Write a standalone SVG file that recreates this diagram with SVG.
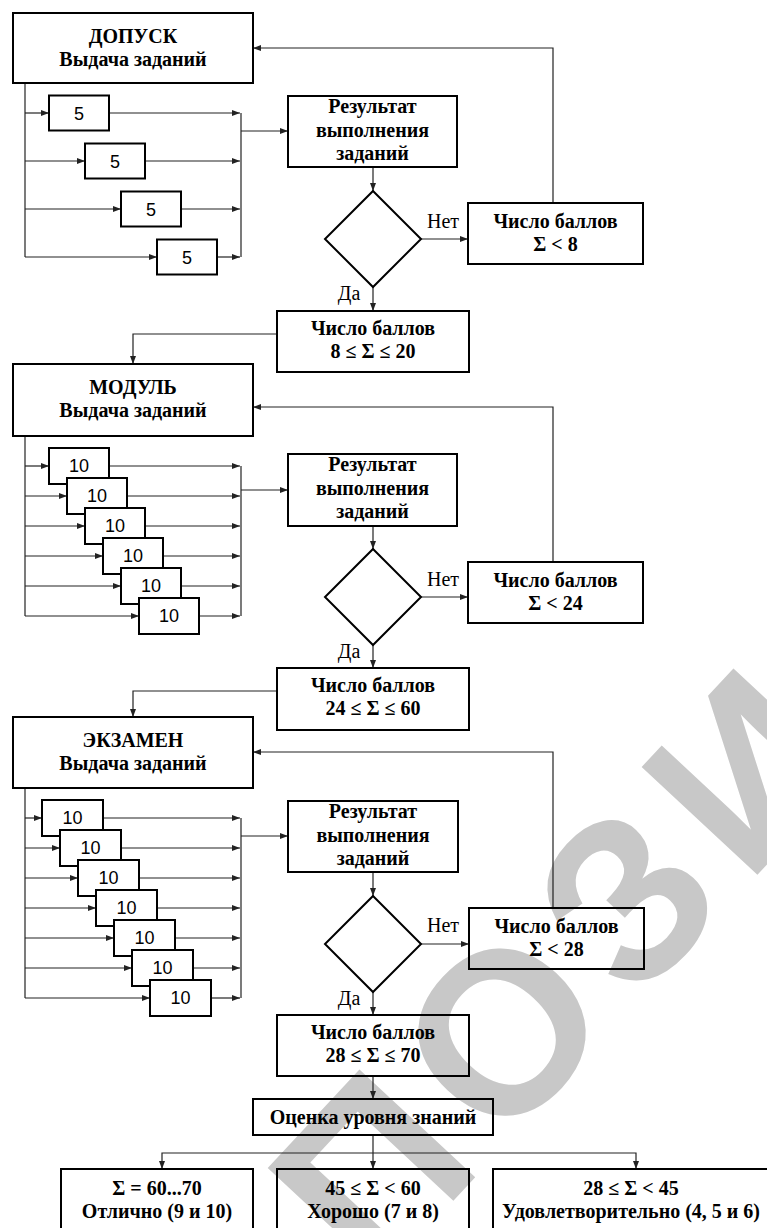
<svg xmlns="http://www.w3.org/2000/svg" width="767" height="1228" viewBox="0 0 767 1228">
<style>
.box{fill:none;stroke:#000;stroke-width:2}
.sbox{fill:#fff;stroke:#000;stroke-width:2}
.ln{fill:none;stroke:#222;stroke-width:1.2}
.ar{fill:none;stroke:#222;stroke-width:1.2;marker-end:url(#ah)}
.t{font-family:'Liberation Serif','DejaVu Serif',serif;font-weight:bold;font-size:20px;text-anchor:middle;fill:#000}
.lab{font-family:'Liberation Serif','DejaVu Serif',serif;font-size:20px;text-anchor:middle;fill:#000}
.n{font-family:'Liberation Sans','DejaVu Sans',sans-serif;font-size:18px;text-anchor:middle;fill:#000}
.wm{font-family:'Liberation Sans','DejaVu Sans',sans-serif;font-weight:bold;font-size:230px;fill:#c8c8c8}
</style>
<defs>
<marker id="ah" markerWidth="8" markerHeight="6" refX="8" refY="3" orient="auto" markerUnits="userSpaceOnUse">
<path d="M0,0 L8,3 L0,6 z" fill="#222"/>
</marker>
</defs>
<rect width="767" height="1228" fill="#fff"/>
<g id="watermark">
<text class="wm" x="373" y="1287" transform="rotate(-47 373 1287)" letter-spacing="20">ПОЗИ</text>
</g>

<g id="connectors">
<path class="ln" d="M25,83 V257"/>
<path class="ar" d="M25,113 H49"/><path class="ar" d="M25,161 H85"/><path class="ar" d="M25,209 H121"/><path class="ar" d="M25,257 H157"/>
<path class="ar" d="M109,113 H240"/><path class="ar" d="M145,161 H240"/><path class="ar" d="M181,209 H240"/><path class="ar" d="M217,257 H240"/>
<path class="ln" d="M241,113 V257"/>
<path class="ar" d="M241,131 H288"/>
<path class="ar" d="M373,167 V191"/>
<path class="ar" d="M421,239 H468"/>
<path class="ar" d="M553,203 V48 H253"/>
<path class="ar" d="M373,287 V311"/>
<path class="ar" d="M277,334 H133 V364"/>
<path class="ln" d="M25,436 V616"/>
<path class="ar" d="M25,466 H49"/><path class="ar" d="M25,496 H67"/><path class="ar" d="M25,526 H85"/><path class="ar" d="M25,556 H103"/><path class="ar" d="M25,586 H121"/><path class="ar" d="M25,616 H139"/>
<path class="ar" d="M109,466 H240"/><path class="ar" d="M127,496 H240"/><path class="ar" d="M145,526 H240"/><path class="ar" d="M163,556 H240"/><path class="ar" d="M181,586 H240"/><path class="ar" d="M199,616 H240"/>
<path class="ln" d="M241,466 V616"/>
<path class="ar" d="M241,490 H288"/>
<path class="ar" d="M373,526 V549"/>
<path class="ar" d="M421,597 H468"/>
<path class="ar" d="M553,562 V407 H253"/>
<path class="ar" d="M373,645 V668"/>
<path class="ar" d="M277,691 H133 V717"/>
<path class="ln" d="M25,788 V998"/>
<path class="ar" d="M25,818 H42"/><path class="ar" d="M25,848 H60"/><path class="ar" d="M25,878 H78"/><path class="ar" d="M25,908 H96"/><path class="ar" d="M25,938 H114"/><path class="ar" d="M25,968 H132"/><path class="ar" d="M25,998 H150"/>
<path class="ar" d="M103,818 H240"/><path class="ar" d="M121,848 H240"/><path class="ar" d="M139,878 H240"/><path class="ar" d="M157,908 H240"/><path class="ar" d="M175,938 H240"/><path class="ar" d="M193,968 H240"/><path class="ar" d="M211,998 H240"/>
<path class="ln" d="M241,818 V998"/>
<path class="ar" d="M241,836 H288"/>
<path class="ar" d="M373,872 V896"/>
<path class="ar" d="M421,944 H469"/>
<path class="ar" d="M553,908 V752 H253"/>
<path class="ar" d="M373,992 V1015"/>
<path class="ar" d="M373,1076 V1099"/>
<path class="ln" d="M373,1135 V1153"/>
<path class="ar" d="M373,1153 V1169"/>
<path class="ar" d="M373,1153 H162 V1169"/>
<path class="ar" d="M373,1153 H636 V1169"/>
</g>

<g id="dopusk"><rect class="box" x="13" y="13" width="240" height="70"/>
<text class="t" x="133" y="43">ДОПУСК</text><text class="t" x="133" y="66">Выдача заданий</text></g>
<g id="d5a"><rect class="sbox" x="49" y="95.5" width="60" height="35"/><text class="n" x="79" y="119.5">5</text></g>
<g id="d5b"><rect class="sbox" x="85" y="143.5" width="60" height="35"/><text class="n" x="115" y="167.5">5</text></g>
<g id="d5c"><rect class="sbox" x="121" y="191.5" width="60" height="35"/><text class="n" x="151" y="215.5">5</text></g>
<g id="d5d"><rect class="sbox" x="157" y="239.5" width="60" height="35"/><text class="n" x="187" y="263.5">5</text></g>
<g id="res1"><rect class="box" x="288" y="96" width="169" height="71"/>
<text class="t" x="372.5" y="113">Результат</text><text class="t" x="372.5" y="137">выполнения</text><text class="t" x="372.5" y="160">заданий</text></g>
<g id="dec1"><polygon class="box" points="373,191 421,239 373,287 325,239"/></g>
<g id="no1lab"><text class="lab" x="443" y="228">Нет</text></g>
<g id="no1"><rect class="box" x="468" y="203" width="175" height="61"/>
<text class="t" x="555.5" y="228">Число баллов</text><text class="t" x="555.5" y="251">Σ &lt; 8</text></g>
<g id="yes1lab"><text class="lab" x="349" y="300">Да</text></g>
<g id="yes1"><rect class="box" x="277" y="311" width="192" height="61"/>
<text class="t" x="373" y="335">Число баллов</text><text class="t" x="373" y="358">8 ≤ Σ ≤ 20</text></g>

<g id="modul"><rect class="box" x="13" y="364" width="240" height="72"/>
<text class="t" x="133" y="394">МОДУЛЬ</text><text class="t" x="133" y="417">Выдача заданий</text></g>
<g id="m10a"><rect class="sbox" x="49" y="448" width="60" height="36"/><text class="n" x="79" y="472">10</text></g>
<g id="m10b"><rect class="sbox" x="67" y="478" width="60" height="36"/><text class="n" x="97" y="502">10</text></g>
<g id="m10c"><rect class="sbox" x="85" y="508" width="60" height="36"/><text class="n" x="115" y="532">10</text></g>
<g id="m10d"><rect class="sbox" x="103" y="538" width="60" height="36"/><text class="n" x="133" y="562">10</text></g>
<g id="m10e"><rect class="sbox" x="121" y="568" width="60" height="36"/><text class="n" x="151" y="592">10</text></g>
<g id="m10f"><rect class="sbox" x="139" y="598" width="60" height="36"/><text class="n" x="169" y="622">10</text></g>
<g id="res2"><rect class="box" x="288" y="454" width="169" height="72"/>
<text class="t" x="372.5" y="471">Результат</text><text class="t" x="372.5" y="495">выполнения</text><text class="t" x="372.5" y="518">заданий</text></g>
<g id="dec2"><polygon class="box" points="373,549 421,597 373,645 325,597"/></g>
<g id="no2lab"><text class="lab" x="443" y="586">Нет</text></g>
<g id="no2"><rect class="box" x="468" y="562" width="175" height="61"/>
<text class="t" x="555.5" y="587">Число баллов</text><text class="t" x="555.5" y="610">Σ &lt; 24</text></g>
<g id="yes2lab"><text class="lab" x="349" y="658">Да</text></g>
<g id="yes2"><rect class="box" x="277" y="668" width="192" height="62"/>
<text class="t" x="373" y="692">Число баллов</text><text class="t" x="373" y="715">24 ≤ Σ ≤ 60</text></g>

<g id="exam"><rect class="box" x="13" y="717" width="240" height="71"/>
<text class="t" x="133" y="747">ЭКЗАМЕН</text><text class="t" x="133" y="770">Выдача заданий</text></g>
<g id="e10a"><rect class="sbox" x="42" y="800" width="61" height="36"/><text class="n" x="72.5" y="824">10</text></g>
<g id="e10b"><rect class="sbox" x="60" y="830" width="61" height="36"/><text class="n" x="90.5" y="854">10</text></g>
<g id="e10c"><rect class="sbox" x="78" y="860" width="61" height="36"/><text class="n" x="108.5" y="884">10</text></g>
<g id="e10d"><rect class="sbox" x="96" y="890" width="61" height="36"/><text class="n" x="126.5" y="914">10</text></g>
<g id="e10e"><rect class="sbox" x="114" y="920" width="61" height="36"/><text class="n" x="144.5" y="944">10</text></g>
<g id="e10f"><rect class="sbox" x="132" y="950" width="61" height="36"/><text class="n" x="162.5" y="974">10</text></g>
<g id="e10g"><rect class="sbox" x="150" y="980" width="61" height="36"/><text class="n" x="180.5" y="1004">10</text></g>
<g id="res3"><rect class="box" x="288" y="801" width="170" height="71"/>
<text class="t" x="373" y="818">Результат</text><text class="t" x="373" y="842">выполнения</text><text class="t" x="373" y="865">заданий</text></g>
<g id="dec3"><polygon class="box" points="373,896 421,944 373,992 325,944"/></g>
<g id="no3lab"><text class="lab" x="443" y="932">Нет</text></g>
<g id="no3"><rect class="box" x="469" y="908" width="175" height="61"/>
<text class="t" x="556.5" y="933">Число баллов</text><text class="t" x="556.5" y="956">Σ &lt; 28</text></g>
<g id="yes3lab"><text class="lab" x="349" y="1005">Да</text></g>
<g id="yes3"><rect class="box" x="277" y="1015" width="192" height="61"/>
<text class="t" x="373" y="1039">Число баллов</text><text class="t" x="373" y="1062">28 ≤ Σ ≤ 70</text></g>
<g id="grade"><rect class="box" x="253" y="1099" width="240" height="36"/>
<text class="t" x="373" y="1124">Оценка уровня знаний</text></g>
<g id="excellent"><rect class="box" x="61" y="1169" width="192" height="70"/>
<text class="t" x="157" y="1195">Σ = 60...70</text><text class="t" x="157" y="1218">Отлично (9 и 10)</text></g>
<g id="good"><rect class="box" x="277" y="1169" width="192" height="70"/>
<text class="t" x="373" y="1195">45 ≤ Σ &lt; 60</text><text class="t" x="373" y="1218">Хорошо (7 и 8)</text></g>
<g id="satisf"><rect class="box" x="493" y="1169" width="290" height="70"/>
<text class="t" x="631" y="1195">28 ≤ Σ &lt; 45</text><text class="t" x="631" y="1218">Удовлетворительно (4, 5 и 6)</text></g>
</svg>
